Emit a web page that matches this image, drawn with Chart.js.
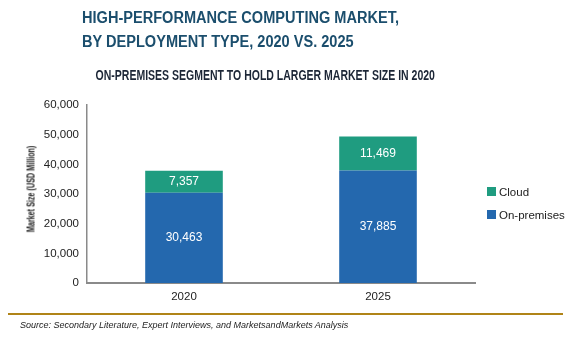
<!DOCTYPE html>
<html>
<head>
<meta charset="utf-8">
<script src="https://cdn.jsdelivr.net/npm/chart.js@4/dist/chart.umd.min.js"></script>
<style>
  body { margin: 0; background: #fff; }
  #wrap { position: relative; width: 567px; height: 340px; overflow: hidden; font-family: "Liberation Sans", Arial, sans-serif; }
  #chart { position: absolute; left: 0; top: 0; }
  .title { position: absolute; left: 82px; top: 6px; font-size: 16px; font-weight: bold; color: #1b4e6d; line-height: 24px; transform: scaleX(0.91); transform-origin: left top; white-space: nowrap; }
  .sub { position: absolute; left: -18px; width: 567px; top: 66px; text-align: center; }
  .sub span { display: inline-block; font-size: 14px; font-weight: bold; color: #1c2636; transform: scaleX(0.75); white-space: nowrap; }
  .ytitle { position: absolute; left: 31px; top: 189px; transform: translate(-50%, -50%) rotate(-90deg) scaleX(0.72); white-space: nowrap; font-size: 10px; font-weight: bold; color: #222; }
  .legend { position: absolute; left: 487px; top: 180px; font-size: 11.5px; color: #222; }
  .legend div { height: 23px; display: flex; align-items: center; }
  .legend span.box { display: inline-block; width: 9px; height: 9px; margin-right: 3px; }
  .rule { position: absolute; left: 8px; width: 555px; top: 313px; height: 2px; background: #b08418; }
  .source { position: absolute; left: 20px; top: 320px; font-size: 9px; font-style: italic; color: #222; }
</style>
</head>
<body>
<div id="wrap">
  <canvas id="chart" width="567" height="340"></canvas>
  <div class="title">HIGH-PERFORMANCE COMPUTING MARKET,<br>BY DEPLOYMENT TYPE, 2020 VS. 2025</div>
  <div class="sub"><span>ON-PREMISES SEGMENT TO HOLD LARGER MARKET SIZE IN 2020</span></div>
  <div class="ytitle">Market Size (USD Million)</div>
  <div class="legend" id="legend"></div>
  <div class="rule"></div>
  <div class="source">Source: Secondary Literature, Expert Interviews, and MarketsandMarkets Analysis</div>
</div>
<script>
const years = ["2020", "2025"];
const onPremises = [30463, 37885];
const cloud = [7357, 11469];
const seriesNames = ["On-premises", "Cloud"];
const seriesColors = ["#2468ae", "#1f9c80"];

// legend, Cloud on top like the original
const legend = document.getElementById("legend");
[1, 0].forEach(i => {
    const row = document.createElement("div");
    row.innerHTML = '<span class="box" style="background:' + seriesColors[i] + '"></span>' + seriesNames[i];
    legend.appendChild(row);
});

const valueLabels = {
    id: "valueLabels",
    afterDatasetsDraw(chart) {
        const ctx = chart.ctx;
        ctx.save();
        ctx.fillStyle = "#fff";
        ctx.font = "12px 'Liberation Sans', Arial, sans-serif";
        ctx.textAlign = "center";
        ctx.textBaseline = "middle";
        chart.data.datasets.forEach((ds, di) => {
            chart.getDatasetMeta(di).data.forEach((bar, i) => {
                const y = (bar.y + bar.base) / 2;
                ctx.fillText(ds.data[i].toLocaleString("en-US"), bar.x, y);
            });
        });
        ctx.restore();
    }
};

new Chart(document.getElementById("chart").getContext("2d"), {
    type: "bar",
    data: {
        labels: years,
        datasets: [
            { label: seriesNames[0], data: onPremises, backgroundColor: seriesColors[0] },
            { label: seriesNames[1], data: cloud, backgroundColor: seriesColors[1] },
        ],
    },
    options: {
        responsive: false,
        animation: false,
        layout: { padding: { left: 0, top: 105, right: 92, bottom: 37 } },
        plugins: { legend: { display: false }, tooltip: { enabled: false } },
        datasets: { bar: { categoryPercentage: 1, barPercentage: 0.4 } },
        scales: {
            x: {
                stacked: true,
                grid: { display: false, drawTicks: false },
                border: { color: "#8a8a8a", width: 2 },
                ticks: { color: "#222", font: { size: 11.5, family: "'Liberation Sans', Arial" }, padding: 7 },
                afterFit: s => { s.height = 20; },
            },
            y: {
                stacked: true,
                min: 0,
                max: 60000,
                grid: { display: false, drawOnChartArea: false, drawTicks: true, tickLength: 4, color: "#8a8a8a" },
                border: { color: "#8a8a8a", width: 1.5 },
                ticks: {
                    stepSize: 10000,
                    color: "#222",
                    padding: 4,
                    font: { size: 11.5, family: "'Liberation Sans', Arial" },
                    callback: v => v.toLocaleString("en-US"),
                },
                afterFit: s => { s.width = 87; },
            },
        },
    },
    plugins: [valueLabels],
});
</script>
</body>
</html>
